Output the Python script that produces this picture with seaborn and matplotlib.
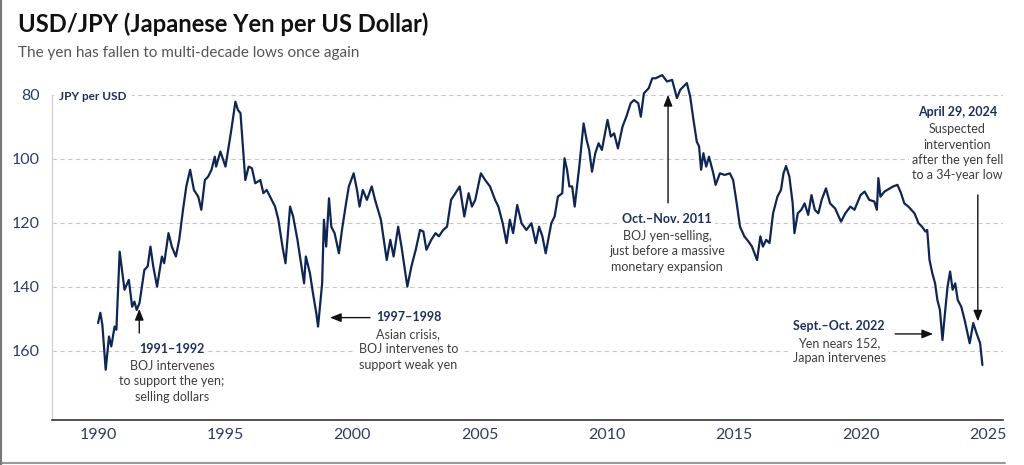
import numpy as np
import pandas as pd
import matplotlib
matplotlib.use("Agg")
import matplotlib.pyplot as plt
from matplotlib.lines import Line2D
import seaborn as sns

# USD/JPY (decimal year, yen per dollar)
years = [
    1990.00, 1990.09, 1990.17, 1990.30, 1990.43, 1990.52, 1990.65, 1990.72, 1990.85, 1991.04,
    1991.21, 1991.34, 1991.43, 1991.52, 1991.63, 1991.82, 1991.95, 1992.06, 1992.17, 1992.32,
    1992.51, 1992.60, 1992.77, 1992.90, 1993.06, 1993.19, 1993.34, 1993.47, 1993.62, 1993.77,
    1993.94, 1994.06, 1994.20, 1994.33, 1994.46, 1994.59, 1994.64, 1994.81, 1995.01, 1995.24,
    1995.40, 1995.50, 1995.60, 1995.79, 1995.92, 1996.05, 1996.18, 1996.38, 1996.50, 1996.63,
    1996.96, 1997.09, 1997.25, 1997.37, 1997.55, 1997.67, 1997.84, 1998.00, 1998.10, 1998.17,
    1998.33, 1998.45, 1998.58, 1998.65, 1998.76, 1998.81, 1998.88, 1998.97, 1999.08, 1999.17,
    1999.30, 1999.47, 1999.59, 1999.75, 1999.86, 2000.05, 2000.18, 2000.28, 2000.41, 2000.57,
    2000.76, 2000.89, 2001.12, 2001.35, 2001.49, 2001.62, 2001.80, 2001.93, 2002.16, 2002.32,
    2002.49, 2002.66, 2002.79, 2002.91, 2003.10, 2003.27, 2003.40, 2003.57, 2003.72, 2003.88,
    2004.05, 2004.22, 2004.40, 2004.57, 2004.70, 2004.83, 2005.05, 2005.22, 2005.41, 2005.61,
    2005.74, 2005.91, 2006.06, 2006.19, 2006.32, 2006.48, 2006.65, 2006.84, 2007.04, 2007.21,
    2007.34, 2007.47, 2007.60, 2007.82, 2007.95, 2008.08, 2008.25, 2008.34, 2008.44, 2008.53,
    2008.64, 2008.74, 2008.92, 2009.09, 2009.21, 2009.31, 2009.42, 2009.55, 2009.68, 2009.81,
    2010.03, 2010.16, 2010.29, 2010.44, 2010.62, 2010.77, 2010.94, 2011.07, 2011.24, 2011.34,
    2011.46, 2011.65, 2011.79, 2011.92, 2012.18, 2012.37, 2012.57, 2012.76, 2012.89, 2013.15,
    2013.28, 2013.41, 2013.54, 2013.63, 2013.71, 2013.80, 2013.91, 2014.02, 2014.19, 2014.28,
    2014.45, 2014.64, 2014.84, 2014.97, 2015.11, 2015.24, 2015.41, 2015.57, 2015.71, 2015.91,
    2016.04, 2016.14, 2016.27, 2016.40, 2016.54, 2016.71, 2016.85, 2016.95, 2017.05, 2017.18,
    2017.31, 2017.38, 2017.51, 2017.65, 2017.78, 2017.92, 2018.05, 2018.18, 2018.32, 2018.45,
    2018.62, 2018.78, 2018.98, 2019.21, 2019.38, 2019.58, 2019.74, 2019.98, 2020.14, 2020.32,
    2020.52, 2020.62, 2020.68, 2020.76, 2020.92, 2021.13, 2021.26, 2021.43, 2021.57, 2021.70,
    2021.86, 2022.10, 2022.26, 2022.40, 2022.53, 2022.60, 2022.69, 2022.80, 2022.91, 2023.00,
    2023.10, 2023.20, 2023.31, 2023.40, 2023.50, 2023.60, 2023.70, 2023.80, 2023.94, 2024.07,
    2024.27, 2024.41, 2024.54, 2024.68, 2024.77,
]
jpy_per_usd = [
    151.3, 148.1, 151.9, 165.9, 155.5, 158.6, 152.4, 153.4, 129.0, 140.9,
    137.8, 146.2, 144.6, 147.2, 145.0, 134.7, 133.6, 127.4, 133.6, 139.9,
    130.5, 132.6, 123.2, 127.4, 130.5, 125.3, 115.9, 108.6, 103.4, 109.7,
    111.8, 115.9, 106.6, 105.5, 103.4, 99.3, 102.4, 97.7, 102.4, 90.9,
    82.1, 84.7, 85.7, 106.6, 102.4, 102.9, 107.6, 106.6, 110.7, 109.7,
    114.9, 119.0, 127.4, 132.6, 114.9, 118.0, 125.3, 133.6, 138.9, 130.5,
    135.7, 142.0, 148.2, 152.4, 143.0, 138.9, 119.0, 127.4, 112.3, 121.2,
    123.2, 129.5, 122.2, 113.9, 108.6, 104.5, 109.7, 114.9, 109.7, 112.8,
    108.6, 112.8, 119.0, 131.6, 125.3, 130.5, 121.2, 127.4, 139.9, 133.6,
    128.4, 122.2, 122.7, 128.4, 125.3, 123.2, 124.2, 122.2, 121.2, 112.8,
    110.7, 108.6, 118.0, 110.7, 114.9, 112.8, 104.5, 106.6, 108.6, 112.8,
    114.9, 120.1, 126.3, 119.0, 123.2, 114.4, 120.1, 122.2, 120.1, 126.3,
    121.2, 124.2, 129.5, 120.1, 118.0, 111.8, 110.7, 99.8, 103.4, 108.6,
    108.6, 114.9, 102.4, 88.9, 94.1, 97.2, 104.0, 98.2, 95.1, 97.2,
    87.8, 93.0, 92.0, 96.7, 89.9, 86.8, 82.6, 81.6, 82.6, 86.8,
    79.5, 77.9, 74.8, 74.8, 73.8, 75.8, 75.3, 81.0, 78.4, 76.3,
    80.5, 87.8, 94.6, 96.1, 103.4, 98.2, 102.4, 99.3, 104.5, 108.1,
    104.5, 105.0, 104.5, 106.6, 113.9, 121.2, 124.2, 125.8, 127.4, 131.6,
    124.2, 127.4, 125.3, 126.3, 117.0, 111.8, 109.7, 104.5, 102.2, 105.5,
    113.9, 123.2, 117.0, 115.9, 113.9, 117.5, 111.3, 115.9, 117.0, 112.8,
    109.2, 113.9, 115.5, 119.6, 117.0, 114.9, 115.9, 111.3, 110.2, 112.8,
    113.3, 115.9, 106.0, 111.8, 110.2, 109.2, 108.6, 108.1, 110.7, 113.9,
    114.9, 117.0, 120.1, 121.2, 122.7, 122.2, 131.6, 135.7, 138.9, 144.1,
    147.2, 156.6, 147.2, 139.9, 135.2, 140.9, 138.9, 144.1, 146.2, 150.3,
    157.6, 151.3, 154.5, 157.6, 164.4,
]

y_ticks = [80, 100, 120, 140, 160]
x_ticks = [1990, 1995, 2000, 2005, 2010, 2015, 2020, 2025]

title = "USD/JPY (Japanese Yen per US Dollar)"
subtitle = "The yen has fallen to multi-decade lows once again"
unit_label = "JPY per USD"

# (header, body, text x, header baseline y, arrow tail, arrow head)
notes = [
    ("1991\u20131992", "BOJ intervenes\nto support the yen;\nselling dollars",
     1992.9, 160.6, (1991.62, 154.4), (1991.62, 146.9)),
    ("1997\u20131998", "Asian crisis,\nBOJ intervenes to\nsupport weak yen",
     2002.2, 150.6, (2000.69, 149.6), (1999.12, 149.6)),
    ("Oct.\u2013Nov. 2011", "BOJ yen-selling,\njust before a massive\nmonetary expansion",
     2012.37, 120.0, (2012.41, 113.75), (2012.41, 80.0)),
    ("April 29, 2024", "Suspected\nintervention\nafter the yen fell\nto a 34-year low",
     2023.78, 86.6, (2024.59, 111.25), (2024.59, 150.8)),
    ("Sept.\u2013Oct. 2022", "Yen nears 152,\nJapan intervenes",
     2019.14, 153.4, (2021.34, 154.7), (2022.83, 154.7)),
]

df = pd.DataFrame({"year": years, "rate": jpy_per_usd})

sns.set_theme(style="white")
plt.rcParams["font.family"] = ["Lato", "DejaVu Sans"]

navy = "#0f2654"
head_col = "#1c2f5e"
body_col = "#3d3d3d"
tick_col = "#2c3e66"

fig = plt.figure(figsize=(10.24, 4.65), dpi=100)
ax = fig.add_axes([0.0508, 0.0968, 0.9287, 0.7527])

sns.lineplot(data=df, x="year", y="rate", color=navy, linewidth=1.6, ax=ax, zorder=4)

ax.set_xlim(1988.19, 2025.58)
ax.set_ylim(181.6, 72.2)
ax.set_xticks(x_ticks)
ax.set_yticks(y_ticks)
ax.set_xlabel("")
ax.set_ylabel("")

for v in y_ticks:
    ax.axhline(v, color="#c8c8c8", lw=0.8, ls=(0, (4, 3)), zorder=1)

for s in ["top", "right"]:
    ax.spines[s].set_visible(False)
ax.spines["left"].set_color("#d0d0d0")
ax.spines["left"].set_linewidth(0.9)
ax.spines["left"].set_bounds(80, 181.6)
ax.spines["bottom"].set_color("#333333")
ax.spines["bottom"].set_linewidth(1.2)

ax.tick_params(axis="x", direction="inout", length=6, width=1.1, color="#333333",
               labelsize=11.5, labelcolor=tick_col, pad=3)
ax.tick_params(axis="y", length=0, labelsize=11.5, labelcolor=tick_col, pad=9)

ax.text(1988.47, 81.56, unit_label, fontsize=8.5, fontweight="bold", color=head_col,
        ha="left", va="baseline", zorder=3,
        bbox=dict(fc="white", ec="none", pad=4))

for head, body, tx, ty, tail, tip in notes:
    ax.text(tx, ty, head, fontsize=9, fontweight="bold", color=head_col,
            ha="center", va="baseline", zorder=3,
            bbox=dict(fc="white", ec="none", pad=2))
    ax.text(tx, ty + 2.3, body, fontsize=9, color=body_col, ha="center", va="top",
            linespacing=1.32, zorder=3,
            bbox=dict(fc="white", ec="none", pad=2))
    ax.annotate("", xy=tip, xytext=tail,
                arrowprops=dict(arrowstyle="-|>,head_length=0.55,head_width=0.22",
                                color="#111111", lw=1.0, shrinkA=0, shrinkB=0),
                zorder=5)

fig.text(18 / 1024, 1 - 31.7 / 465, title, fontsize=17.1, fontweight="bold",
         color="#111111", ha="left", va="baseline")
fig.text(18 / 1024, 1 - 57 / 465, subtitle, fontsize=11, color="#555555",
         ha="left", va="baseline")

# screenshot frame edges
fig.add_artist(Line2D([0, 0.981], [0.005, 0.005], color="#9a9a9a", lw=1.5))
fig.add_artist(Line2D([0.001, 0.001], [0, 1], color="#777777", lw=1.5))

fig.savefig("out.png", dpi=100)
